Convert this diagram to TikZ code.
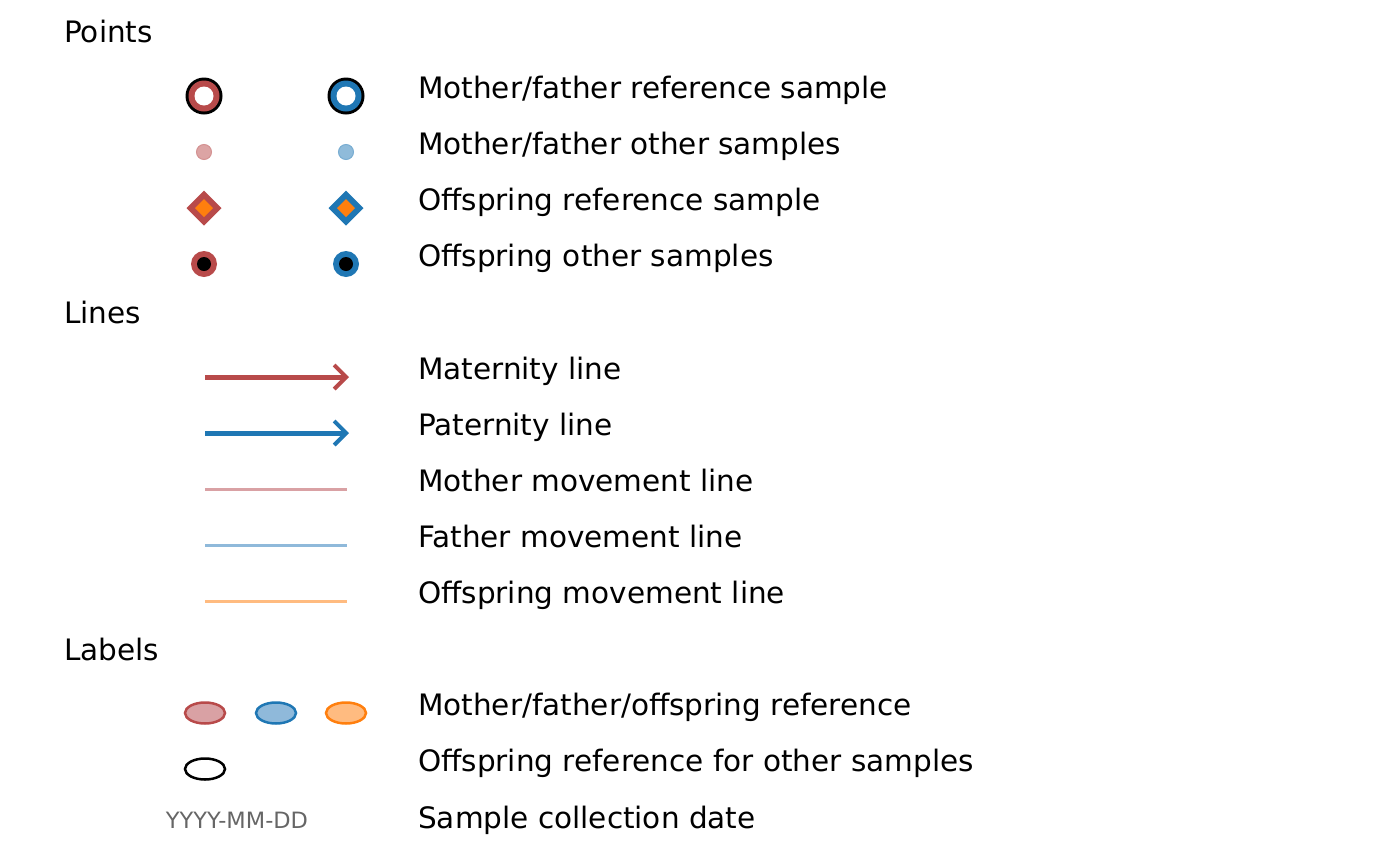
\documentclass[tikz,border=0pt]{standalone}
\usepackage{fontspec}
\setmainfont{DejaVu Sans}
\usetikzlibrary{arrows.meta}
\definecolor{mred}{HTML}{B84A4A}
\definecolor{fblue}{HTML}{1F77B4}
\definecolor{oorange}{HTML}{FF7F0E}
\definecolor{lred}{HTML}{D9A1A4}
\definecolor{lblue}{HTML}{8FB9DA}
\definecolor{lorange}{HTML}{FFBB80}
\begin{document}
\begin{tikzpicture}[x=1pt,y=-1pt,
  txt/.style={anchor=mid west,font=\fontsize{29.5}{34}\selectfont,inner sep=0pt},
  hdr/.style={txt},
  arr/.style={line width=5pt,-{Straight Barb[length=12pt,width=24pt,line width=4pt]}},
  mv/.style={line width=3pt}]
\useasboundingbox (0,0) rectangle (1400,865);
% headers
\node[hdr] (hp) at (64,40) {Points};
\node[hdr] (hl) at (64,321) {Lines};
\node[hdr] (hb) at (64,658) {Labels};
% point symbols
\foreach \x/\c [count=\i] in {204/mred,346/fblue}{
  \fill[black] (\x,96) circle (18.5);
  \fill[\c] (\x,96) circle (15.5);
  \fill[white] (\x,96) circle (9.5);
  \fill[\c!50,draw=\c!60,line width=1pt] (\x,152) circle (7.5);
  \fill[\c] (\x,190.5) -- (\x+17.5,208) -- (\x,225.5) -- (\x-17.5,208) -- cycle;
  \fill[oorange] (\x,199) -- (\x+9,208) -- (\x,217) -- (\x-9,208) -- cycle;
  \fill[\c] (\x,264) circle (13);
  \fill[black] (\x,264) circle (7);
}
\node[txt] (t1) at (418,96) {Mother/father reference sample};
\node[txt] (t2) at (418,152) {Mother/father other samples};
\node[txt] (t3) at (418,208) {Offspring reference sample};
\node[txt] (t4) at (418,264) {Offspring other samples};
% lines
\coordinate (a1) at (205,377); \coordinate (b1) at (349,377);
\coordinate (a2) at (205,433); \coordinate (b2) at (349,433);
\draw[arr,mred] (a1) -- (b1);
\draw[arr,fblue] (a2) -- (b2);
\coordinate (c1) at (205,489); \coordinate (d1) at (347,489);
\coordinate (c2) at (205,545); \coordinate (d2) at (347,545);
\coordinate (c3) at (205,601); \coordinate (d3) at (347,601);
\draw[mv,lred] (c1) -- (d1);
\draw[mv,lblue] (c2) -- (d2);
\draw[mv,lorange] (c3) -- (d3);
\node[txt] (t5) at (418,377) {Maternity line};
\node[txt] (t6) at (418,433) {Paternity line};
\node[txt] (t7) at (418,489) {Mother movement line};
\node[txt] (t8) at (418,545) {Father movement line};
\node[txt] (t9) at (418,601) {Offspring movement line};
% labels
\draw[line width=2.5pt,mred,fill=lred] (205,713) ellipse (20 and 10.5);
\draw[line width=2.5pt,fblue,fill=lblue] (276,713) ellipse (20 and 10.5);
\draw[line width=2.5pt,oorange,fill=lorange] (346,713) ellipse (20 and 10.5);
\draw[line width=2.5pt,black] (205,769) ellipse (20 and 10.5);
\node[font=\fontsize{22.5}{26}\selectfont,text=black!60,inner sep=0pt,anchor=mid] (dt) at (237,826) {YYYY-MM-DD};
\node[txt] (t10) at (418,713) {Mother/father/offspring reference};
\node[txt] (t11) at (418,769) {Offspring reference for other samples};
\node[txt] (t12) at (418,826) {Sample collection date};
\end{tikzpicture}
\end{document}
